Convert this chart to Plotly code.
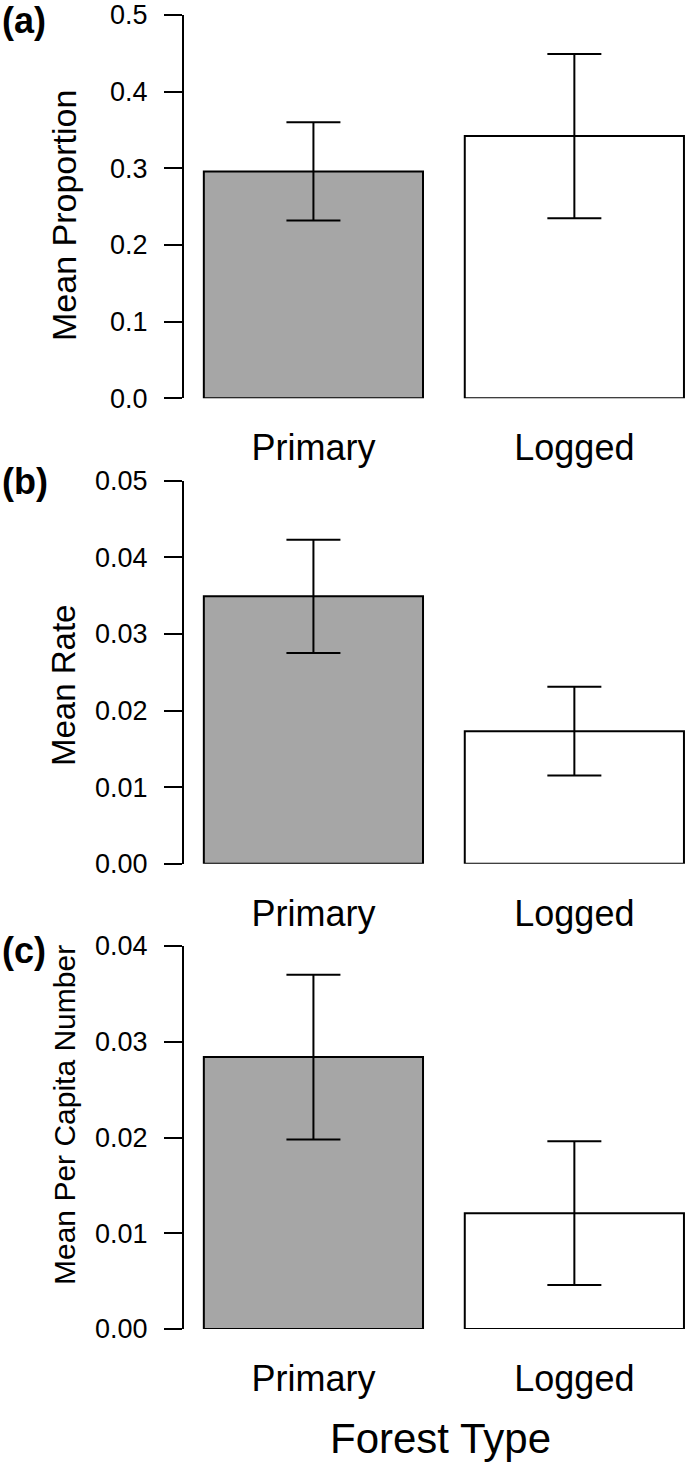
import plotly.graph_objects as go

# forest types on the x axis
forest_types = ["Primary", "Logged"]
bar_colors = ["#a6a6a6", "#ffffff"]

# (a) mean proportion
prop_mean = [0.296, 0.342]
prop_err = [0.064, 0.107]

# (b) mean rate
rate_mean = [0.0349, 0.0173]
rate_err = [0.0074, 0.0058]

# (c) mean per capita number
percap_mean = [0.0284, 0.0121]
percap_err = [0.0086, 0.0075]

panels = [
    ("(a)", "Mean Proportion", prop_mean, prop_err, 0.5, [0, 0.1, 0.2, 0.3, 0.4, 0.5], ".1f"),
    ("(b)", "Mean Rate", rate_mean, rate_err, 0.05, [0, 0.01, 0.02, 0.03, 0.04, 0.05], ".2f"),
    ("(c)", "Mean Per Capita Number", percap_mean, percap_err, 0.04, [0, 0.01, 0.02, 0.03, 0.04], ".2f"),
]

W, H = 685, 1462
FONT = "Liberation Sans, Arial, Helvetica, sans-serif"

# pixel layout of the panels
y_pix = [(15, 398.3), (480.7, 863.7), (946, 1329)]
label_pix = [21, 481, 950]
title_pix = [215, 685, 1115]
title_size = [34, 33, 30]
x_left = 184


def py(p):
    # pixel row -> paper fraction
    return 1 - p / H


fig = go.Figure()
layout = dict(
    width=W, height=H,
    margin=dict(l=0, r=0, t=0, b=0, autoexpand=False),
    paper_bgcolor="white", plot_bgcolor="white",
    showlegend=False,
    font=dict(family=FONT, color="black"),
    annotations=[],
)

for i, (tag, ytitle, means, errs, ymax, ticks, fmt) in enumerate(panels):
    n = "" if i == 0 else str(i + 1)
    fig.add_trace(go.Bar(
        x=forest_types, y=means, width=0.84,
        marker=dict(color=bar_colors, line=dict(color="black", width=2)),
        error_y=dict(type="data", array=errs, color="black", thickness=2, width=27),
        xaxis="x" + n, yaxis="y" + n,
        cliponaxis=False,
    ))
    top, bot = y_pix[i]
    layout["xaxis" + n] = dict(
        domain=[x_left / W, 1],
        anchor="y" + n,
        range=[-0.496, 1.424],
        showline=False, showgrid=False, zeroline=False,
        ticks="", tickfont=dict(size=36),
        ticklabelstandoff=25,
        automargin=False,
    )
    layout["yaxis" + n] = dict(
        domain=[py(bot), py(top)],
        anchor="x" + n,
        range=[0, ymax],
        tickvals=ticks, tickformat=fmt,
        showline=True, linecolor="black", linewidth=2,
        ticks="outside", ticklen=18, tickwidth=2, tickcolor="black",
        showgrid=False, zeroline=False,
        tickfont=dict(size=27),
        ticklabelstandoff=11,
        automargin=False,
    )
    layout["annotations"].append(dict(
        text=ytitle, xref="paper", yref="paper",
        x=64 / W, y=py(title_pix[i]), xanchor="center", yanchor="middle",
        textangle=-90, showarrow=False, font=dict(size=title_size[i]),
    ))
    layout["annotations"].append(dict(
        text="<b>" + tag + "</b>", xref="paper", yref="paper",
        x=0, y=py(label_pix[i]), xanchor="left", yanchor="middle",
        showarrow=False, font=dict(size=36),
    ))

layout["annotations"].append(dict(
    text="Forest Type", xref="paper", yref="paper",
    x=440 / W, y=py(1438), xanchor="center", yanchor="middle",
    showarrow=False, font=dict(size=42),
))

fig.update_layout(**layout)
fig.write_html("out.html", config={"displayModeBar": False},
               post_script="document.body.style.margin='0px';")
